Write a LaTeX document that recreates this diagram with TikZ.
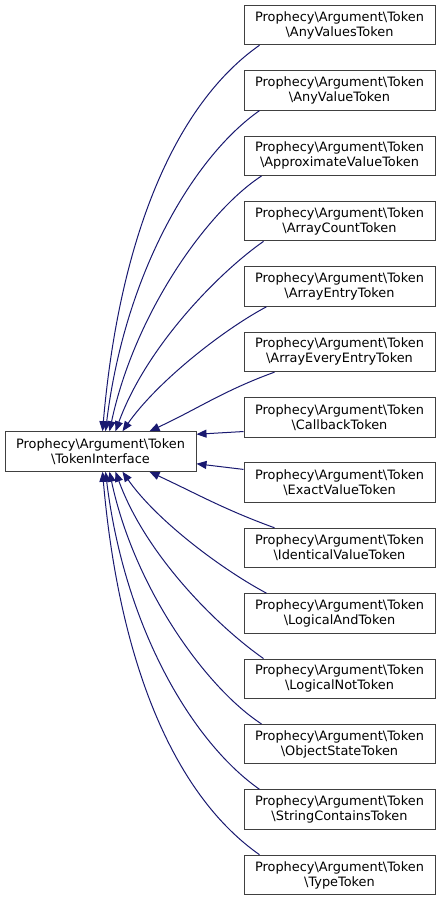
\documentclass[tikz,border=0pt]{standalone}
\usepackage{fontspec}
\setmainfont{DejaVu Sans}
\usetikzlibrary{arrows.meta}
\definecolor{edgeblue}{HTML}{191970}
\definecolor{boxgray}{HTML}{404040}
\tikzset{
  cls/.style={draw=boxgray, line width=1pt, fill=white, rectangle, inner sep=0pt,
    minimum width=191pt, minimum height=39.5pt, align=center,
    font=\fontsize{12.9pt}{15pt}\selectfont},
  edge/.style={draw=edgeblue, line width=1pt, {Triangle[length=10pt,width=8pt]}-}
}
\newcommand{\tk}[1]{Prophecy\textbackslash Argument\textbackslash Token\\\textbackslash #1}
\begin{document}
\begin{tikzpicture}[x=1pt,y=1pt]
\useasboundingbox (0,0) rectangle (440,-901);
\node[cls] (l) at (100.5,-451.5) {\tk{TokenInterface}};
\foreach \i/\t in {1/AnyValuesToken,2/AnyValueToken,3/ApproximateValueToken,4/ArrayCountToken,
  5/ArrayEntryToken,6/ArrayEveryEntryToken,7/CallbackToken,8/ExactValueToken,
  9/IdenticalValueToken,10/LogicalAndToken,11/LogicalNotToken,12/ObjectStateToken,
  13/StringContainsToken,14/TypeToken}{
  \node[cls] (r\i) at (339.5,{-25-(\i-1)*65.38}) {\tk{\t}};
}
% upper edges
\draw[edge] ([xshift=98pt]l.north west) to[out=85,in=215,out distance=200pt,in distance=100pt] ([xshift=16pt]r1.south west);
\draw[edge] ([xshift=101pt]l.north west) to[out=83,in=215,out distance=160pt,in distance=80pt] ([xshift=16pt]r2.south west);
\draw[edge] ([xshift=105pt]l.north west) to[out=78,in=213,out distance=120pt,in distance=65pt] ([xshift=18pt]r3.south west);
\draw[edge] ([xshift=111pt]l.north west) to[out=70,in=215,out distance=90pt,in distance=55pt] ([xshift=20pt]r4.south west);
\draw[edge] ([xshift=118pt]l.north west) to[out=55,in=208,out distance=60pt,in distance=50pt] ([xshift=23pt]r5.south west);
\draw[edge] ([xshift=145pt]l.north west) to[out=25,in=200] ([xshift=31pt]r6.south west);
% side edges
\draw[edge] ([yshift=-3pt]l.north east) -- ([yshift=6pt]r7.south west);
\draw[edge] ([yshift=8pt]l.south east) -- ([yshift=-7pt]r8.north west);
% lower edges
\draw[edge] ([xshift=145pt]l.south west) to[out=-25,in=160] ([xshift=31pt]r9.north west);
\draw[edge] ([xshift=118pt]l.south west) to[out=-55,in=152,out distance=60pt,in distance=50pt] ([xshift=23pt]r10.north west);
\draw[edge] ([xshift=111pt]l.south west) to[out=-70,in=145,out distance=90pt,in distance=55pt] ([xshift=20pt]r11.north west);
\draw[edge] ([xshift=105pt]l.south west) to[out=-78,in=147,out distance=120pt,in distance=65pt] ([xshift=18pt]r12.north west);
\draw[edge] ([xshift=101pt]l.south west) to[out=-83,in=145,out distance=160pt,in distance=80pt] ([xshift=16pt]r13.north west);
\draw[edge] ([xshift=98pt]l.south west) to[out=-85,in=145,out distance=200pt,in distance=100pt] ([xshift=16pt]r14.north west);
\end{tikzpicture}
\end{document}
